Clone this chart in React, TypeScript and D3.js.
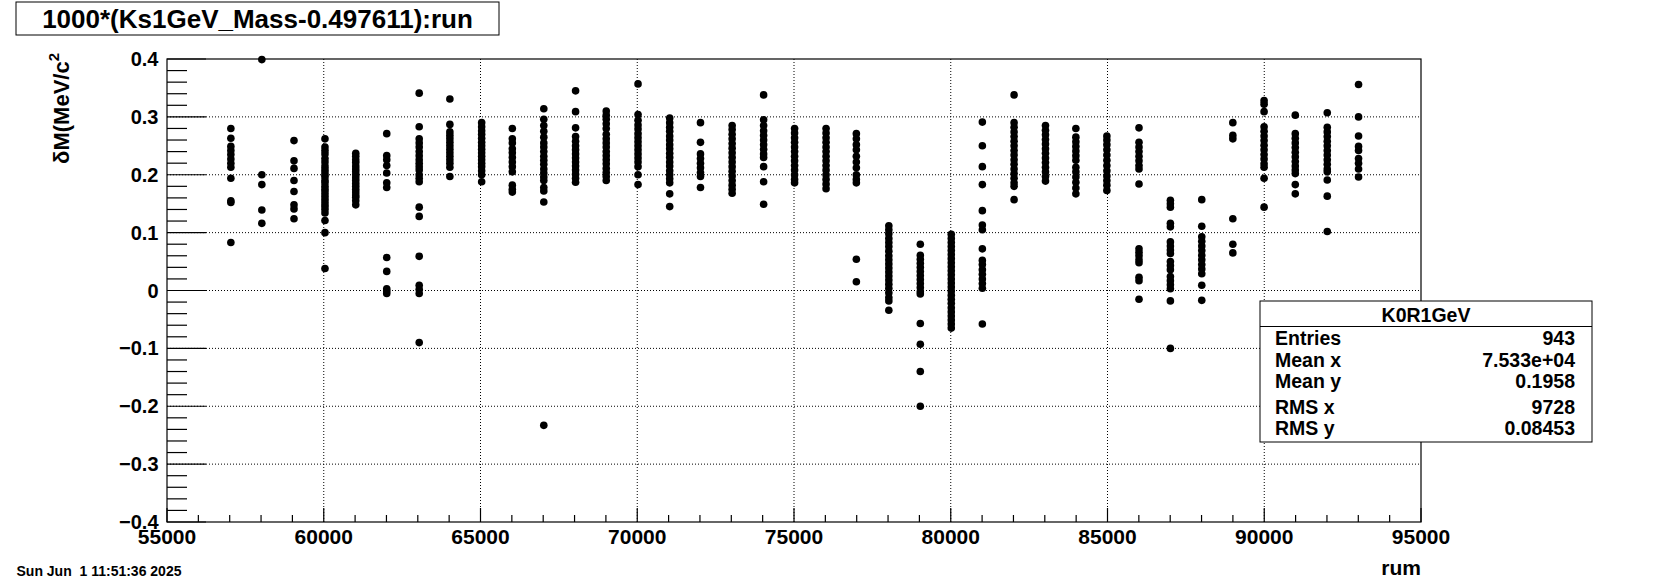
import React from "react";
import * as d3 from "d3";

// run position of each column of points
const runs = [
  57037, 58025, 59051, 60039, 61021, 62009, 63045, 64023, 65037, 66015,
  67019, 68033, 69011, 70025, 71035, 72017, 73027, 74031, 75019, 76023,
  76989, 78025, 79029, 80017, 81008, 82021, 83022, 83991, 84980, 86005,
  87006, 88007, 88998, 89995, 90990, 92010, 93008,
];

// δM values (MeV/c^2) of the points in each column
const dM: number[][] = [
  [0.28, 0.263, 0.249, 0.242, 0.235, 0.227, 0.22, 0.213, 0.194, 0.155, 0.152, 0.083],
  [0.399, 0.2, 0.183, 0.139, 0.116],
  [0.259, 0.224, 0.211, 0.19, 0.171, 0.148, 0.141, 0.124],
  [0.262, 0.248, 0.242, 0.236, 0.228, 0.222, 0.215, 0.21, 0.205, 0.2, 0.196, 0.19, 0.186, 0.18, 0.175, 0.17, 0.165, 0.16, 0.155, 0.15, 0.145, 0.14, 0.134, 0.121, 0.1, 0.038],
  [0.237, 0.232, 0.226, 0.221, 0.215, 0.21, 0.205, 0.2, 0.195, 0.19, 0.185, 0.18, 0.175, 0.17, 0.165, 0.161, 0.155, 0.148],
  [0.271, 0.233, 0.226, 0.216, 0.203, 0.186, 0.178, 0.057, 0.033, 0.003, -0.001, -0.005],
  [0.341, 0.283, 0.262, 0.255, 0.248, 0.24, 0.233, 0.226, 0.22, 0.214, 0.208, 0.2, 0.194, 0.188, 0.144, 0.128, 0.059, 0.009, 0.002, -0.005, -0.09],
  [0.331, 0.287, 0.274, 0.268, 0.262, 0.256, 0.25, 0.244, 0.238, 0.232, 0.226, 0.22, 0.213, 0.197],
  [0.29, 0.283, 0.276, 0.27, 0.263, 0.256, 0.25, 0.244, 0.238, 0.232, 0.226, 0.22, 0.214, 0.207, 0.2, 0.188],
  [0.28, 0.262, 0.255, 0.245, 0.238, 0.23, 0.222, 0.214, 0.205, 0.182, 0.175, 0.17],
  [0.314, 0.296, 0.285, 0.275, 0.265, 0.255, 0.248, 0.24, 0.232, 0.225, 0.218, 0.21, 0.203, 0.196, 0.19, 0.178, 0.172, 0.153, -0.233],
  [0.345, 0.309, 0.281, 0.266, 0.258, 0.25, 0.243, 0.236, 0.229, 0.222, 0.215, 0.208, 0.201, 0.194, 0.187],
  [0.31, 0.303, 0.296, 0.288, 0.28, 0.27, 0.262, 0.255, 0.248, 0.24, 0.233, 0.226, 0.219, 0.211, 0.204, 0.197, 0.19],
  [0.357, 0.304, 0.294, 0.286, 0.279, 0.271, 0.264, 0.257, 0.25, 0.243, 0.236, 0.229, 0.222, 0.214, 0.2, 0.183],
  [0.298, 0.29, 0.282, 0.275, 0.267, 0.26, 0.252, 0.245, 0.237, 0.23, 0.222, 0.215, 0.207, 0.2, 0.193, 0.186, 0.167, 0.145],
  [0.29, 0.256, 0.236, 0.228, 0.22, 0.212, 0.204, 0.197, 0.178],
  [0.285, 0.278, 0.27, 0.262, 0.254, 0.246, 0.238, 0.23, 0.222, 0.214, 0.206, 0.198, 0.19, 0.182, 0.175, 0.168],
  [0.338, 0.295, 0.285, 0.276, 0.268, 0.26, 0.252, 0.244, 0.236, 0.23, 0.214, 0.188, 0.149],
  [0.28, 0.272, 0.264, 0.256, 0.248, 0.24, 0.232, 0.224, 0.216, 0.208, 0.2, 0.192, 0.186],
  [0.28, 0.272, 0.264, 0.256, 0.248, 0.24, 0.232, 0.224, 0.216, 0.208, 0.2, 0.192, 0.184, 0.176],
  [0.271, 0.262, 0.252, 0.243, 0.232, 0.222, 0.212, 0.2, 0.192, 0.186, 0.054, 0.015],
  [0.112, 0.105, 0.098, 0.09, 0.083, 0.076, 0.068, 0.06, 0.053, 0.046, 0.039, 0.032, 0.025, 0.018, 0.011, 0.004, -0.004, -0.012, -0.018, -0.034],
  [0.08, 0.061, 0.054, 0.047, 0.04, 0.033, 0.026, 0.019, 0.012, 0.005, -0.002, -0.006, -0.057, -0.093, -0.14, -0.2],
  [0.097, 0.09, 0.083, 0.076, 0.069, 0.062, 0.055, 0.048, 0.041, 0.034, 0.027, 0.02, 0.013, 0.006, -0.001, -0.008, -0.015, -0.022, -0.03, -0.037, -0.044, -0.051, -0.058, -0.065],
  [0.291, 0.25, 0.214, 0.183, 0.138, 0.113, 0.105, 0.072, 0.052, 0.045, 0.036, 0.028, 0.02, 0.012, 0.004, -0.058],
  [0.338, 0.29, 0.282, 0.274, 0.266, 0.258, 0.25, 0.242, 0.234, 0.226, 0.218, 0.21, 0.202, 0.194, 0.186, 0.18, 0.157],
  [0.285, 0.277, 0.269, 0.261, 0.253, 0.245, 0.237, 0.229, 0.221, 0.213, 0.205, 0.197, 0.189],
  [0.28, 0.265, 0.257, 0.249, 0.241, 0.233, 0.225, 0.213, 0.205, 0.196, 0.187, 0.177, 0.167],
  [0.267, 0.26, 0.252, 0.243, 0.234, 0.225, 0.216, 0.207, 0.198, 0.19, 0.182, 0.173],
  [0.281, 0.256, 0.248, 0.24, 0.232, 0.224, 0.216, 0.21, 0.184, 0.072, 0.066, 0.06, 0.053, 0.048, 0.023, 0.017, -0.015],
  [0.156, 0.15, 0.144, 0.116, 0.11, 0.084, 0.077, 0.07, 0.064, 0.05, 0.043, 0.036, 0.024, 0.017, 0.01, 0.003, -0.018, -0.1],
  [0.157, 0.111, 0.093, 0.085, 0.077, 0.069, 0.061, 0.053, 0.045, 0.037, 0.029, 0.009, -0.017],
  [0.29, 0.268, 0.262, 0.124, 0.08, 0.065],
  [0.328, 0.322, 0.309, 0.283, 0.275, 0.267, 0.259, 0.251, 0.243, 0.235, 0.227, 0.219, 0.213, 0.194, 0.144],
  [0.303, 0.271, 0.263, 0.255, 0.247, 0.239, 0.231, 0.223, 0.215, 0.208, 0.202, 0.183, 0.167],
  [0.307, 0.282, 0.274, 0.266, 0.258, 0.25, 0.242, 0.234, 0.226, 0.218, 0.21, 0.205, 0.191, 0.163, 0.102],
  [0.356, 0.3, 0.267, 0.249, 0.242, 0.228, 0.22, 0.21, 0.196],
];

const xTicks = [55000, 60000, 65000, 70000, 75000, 80000, 85000, 90000, 95000];
const yTicks = [-0.4, -0.3, -0.2, -0.1, 0, 0.1, 0.2, 0.3, 0.4];

const titleText = "1000*(Ks1GeV_Mass-0.497611):run";
const xTitle = "rum";
const yTitleMain = "\u03b4M(MeV/c";
const yTitleSup = "2";
const dateText = "Sun Jun  1 11:51:36 2025";

const statsTitle = "K0R1GeV";
const statsLabels = ["Entries", "Mean x", "Mean y", "RMS x", "RMS y"];
const statsValues = ["943", "7.533e+04", "0.1958", "9728", "0.08453"];

const FONT = "'Liberation Sans', Arial, Helvetica, sans-serif";

export default function App() {
  const W = 1672, H = 581;
  const L = 167, R = 1421, T = 59, B = 522;
  const x = d3.scaleLinear().domain([55000, 95000]).range([L, R]);
  const y = d3.scaleLinear().domain([-0.4, 0.4]).range([B, T]);

  const xMinor = d3.range(55000, 95001, 1000);
  const yMinor = d3.range(-0.4, 0.4001, 0.02);

  const fmtY = (v: number) => {
    if (Math.abs(v) < 1e-9) return "0";
    const s = Math.abs(v).toFixed(1);
    return (v < 0 ? "\u2212" : "") + s;
  };

  const points: { rx: number; v: number }[] = [];
  runs.forEach((r, i) => dM[i].forEach((v) => points.push({ rx: r, v })));

  const statsY = [344.5, 366.5, 387.5, 414, 434.5];

  return (
    <svg
      width={W}
      height={H}
      style={{ position: "absolute", left: 0, top: 0, background: "#fff" }}
      fontFamily={FONT}
      fontWeight="bold"
    >
      <rect x={0} y={0} width={W} height={H} fill="#fff" />
      {/* grid */}
      {xTicks.slice(1, -1).map((t) => (
        <line key={"gx" + t} x1={x(t)} x2={x(t)} y1={T} y2={B} stroke="#000" strokeWidth={1} strokeDasharray="1 2" />
      ))}
      {yTicks.slice(1, -1).map((t) => (
        <line key={"gy" + t} x1={L} x2={R} y1={y(t)} y2={y(t)} stroke="#000" strokeWidth={1} strokeDasharray="1 2" />
      ))}
      {/* frame */}
      <rect x={L} y={T} width={R - L} height={B - T} fill="none" stroke="#000" strokeWidth={1.2} />
      {/* x ticks */}
      {xMinor.map((t) => {
        const major = t % 5000 === 0;
        return (
          <line key={"xt" + t} x1={x(t)} x2={x(t)} y1={B} y2={B - (major ? 14 : 7)} stroke="#000" strokeWidth={1.2} />
        );
      })}
      {/* y ticks */}
      {yMinor.map((t, i) => {
        const major = i % 5 === 0;
        return (
          <line key={"yt" + i} x1={L} x2={L + (major ? 39 : 20)} y1={y(t)} y2={y(t)} stroke="#000" strokeWidth={1.2} />
        );
      })}
      {/* x labels */}
      {xTicks.map((t) => (
        <text key={"xl" + t} x={x(t)} y={544} textAnchor="middle" fontSize={21}>
          {t}
        </text>
      ))}
      {/* y labels */}
      {yTicks.map((t) => (
        <text key={"yl" + t} x={158.5} y={y(t) + 7} textAnchor="end" fontSize={20}>
          {fmtY(t)}
        </text>
      ))}
      {/* axis titles */}
      <text x={R} y={575} textAnchor="end" fontSize={21}>
        {xTitle}
      </text>
      <text transform="translate(69,53) rotate(-90)" textAnchor="end" fontSize={22}>
        {yTitleMain}
        <tspan dy={-10} fontSize={15}>{yTitleSup}</tspan>
      </text>
      {/* points */}
      {points.map((p, i) => (
        <circle key={"p" + i} cx={x(p.rx)} cy={y(p.v)} r={3.8} fill="#000" />
      ))}
      {/* title box */}
      <rect x={16} y={2} width={483} height={33} fill="#fff" stroke="#000" strokeWidth={1} />
      <text x={257.5} y={27.5} textAnchor="middle" fontSize={26}>
        {titleText}
      </text>
      {/* stats box */}
      <rect x={1260} y={301} width={332} height={141} fill="#fff" stroke="#000" strokeWidth={1} />
      <line x1={1260} x2={1592} y1={326.5} y2={326.5} stroke="#000" strokeWidth={1} />
      <text x={1426} y={321.5} textAnchor="middle" fontSize={19.5}>
        {statsTitle}
      </text>
      {statsLabels.map((lab, i) => (
        <g key={"st" + i}>
          <text x={1275} y={statsY[i]} fontSize={19.5}>
            {lab}
          </text>
          <text x={1575} y={statsY[i]} textAnchor="end" fontSize={19.5}>
            {statsValues[i]}
          </text>
        </g>
      ))}
      {/* date */}
      <text x={16.5} y={576} fontSize={14} style={{ whiteSpace: "pre" }}>
        {dateText}
      </text>
    </svg>
  );
}
